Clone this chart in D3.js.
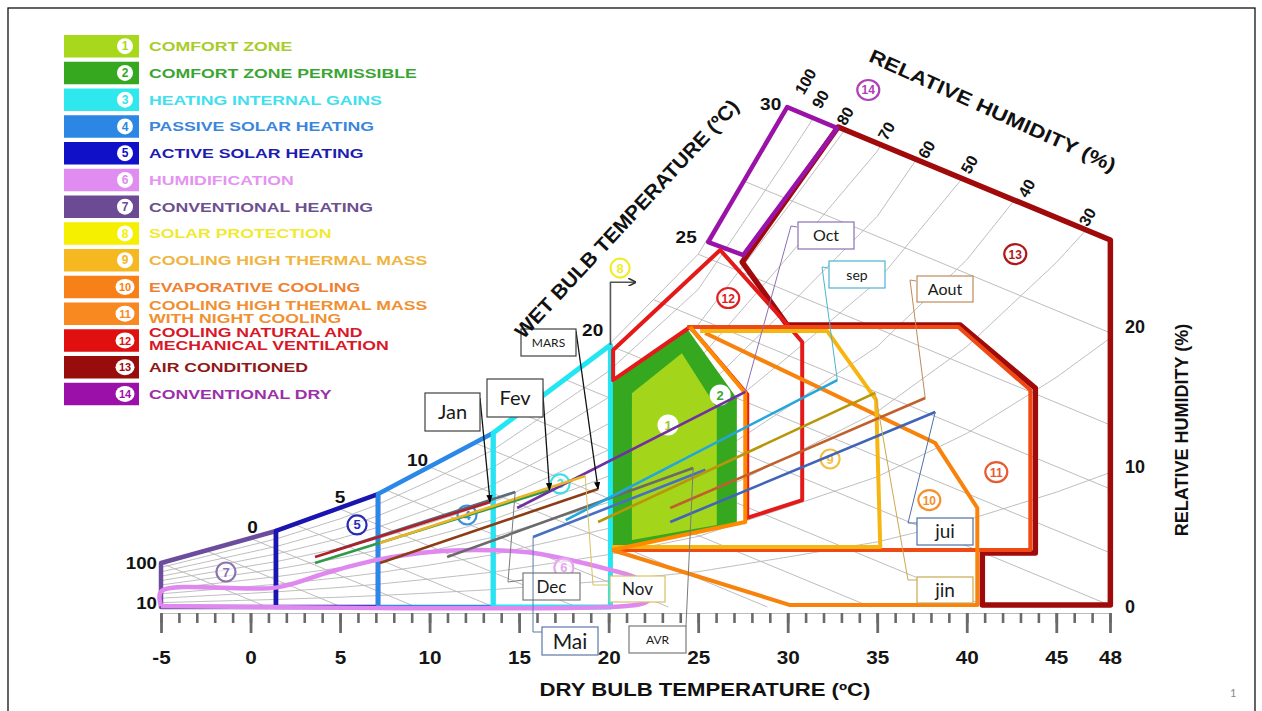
<!DOCTYPE html>
<html><head><meta charset="utf-8">
<script src="https://cdn.jsdelivr.net/npm/d3@7"></script>
<style>body{margin:0;background:#fff}svg{display:block}</style>
</head><body>
<script>
// ---------------- DATA ----------------
const legendNums = [1,2,3,4,5,6,7,8,9,10,11,12,13,14];
const legendText = [["COMFORT ZONE"],["COMFORT ZONE PERMISSIBLE"],["HEATING INTERNAL GAINS"],["PASSIVE SOLAR HEATING"],["ACTIVE SOLAR HEATING"],["HUMIDIFICATION"],["CONVENTIONAL HEATING"],["SOLAR PROTECTION"],["COOLING HIGH THERMAL MASS"],["EVAPORATIVE COOLING"],["COOLING HIGH THERMAL MASS","WITH NIGHT COOLING"],["COOLING NATURAL AND","MECHANICAL VENTILATION"],["AIR CONDITIONED"],["CONVENTIONAL DRY"]];
const xTicksMajor = [-5,0,5,10,15,20,25,30,35,40,45,48];
const xTicksMinor = d3.range(-5,49,1);
const yTicks = [0,10,20];
// saturation curve (dry bulb °C, chart humidity units)
const satT = [-5,0,1.5,5,7,10,13.5,17,20,25,30,35,40,45,48];
const satW = [3.14,4.9,5.43,7.0,8.07,10.0,12.43,15.8,18.71,25.2,35.7,46.5,62,82,96];
const rhLevels = [10,20,30,40,50,60,70,80,90];
const rhTopLabels = [100,90,80,70,60,50,40,30];
const rhLeftLabels = [100,10];
const wetBulbGrid = [-5,-2.5,0,2.5,5,7.5,10,12.5,15,17.5,20,22.5,25,27.5];
const wetBulbLabels = [0,5,10,20,25,30];
const wetBulbSlope = 0.53;
// zones: [dry bulb, humidity]
const zone7  = [[-5,0],[-5,3.14],[1.42,5.43],[1.42,0]];
const zone5  = [[1.42,0],[1.42,5.43],[7.12,8.07],[7.12,0]];
const zone4  = [[7.12,0],[7.12,8.07],[13.55,12.43],[13.55,0]];
const zone3  = [[13.55,0],[13.55,12.43],[20.1,18.71],[20.1,0]];
const zone6  = [[-5,0.07],[21,0.07],[22.1,0.35],[22.6,1.15],[21.4,2.15],[20.1,2.65],[15.8,3.85],[13.5,4.05],[10.2,3.95],[7.2,3.4],[4.4,2.5],[1.5,1.4],[-5,1.1],[-5,0.07]];
const zone2  = [[20.18,15.98],[24.37,19.9],[27.16,14.91],[27.16,5.86],[20.18,4.07]];
const zone1  = [[21.3,15.26],[24.09,18.12],[26.04,14.21],[26.04,5.86],[21.3,4.79]];
const zone12 = [[20.25,16.21],[20.25,18.36],[26.23,25.5],[30.14,19.93],[30.81,18.93],[30.81,7.64],[27.74,6.36],[27.74,15.2],[24.55,20.0],[20.25,16.21]];
const zone13 = [[32.82,34.29],[48.02,26.21],[48.02,0.14],[40.87,0.14],[40.87,3.86],[43.83,3.86],[43.83,15.64],[39.64,20.14],[29.97,20.14],[27.46,24.64],[32.82,34.29]];
const zone14 = [[25.56,26.07],[29.97,35.71],[32.77,34.21],[27.52,25.14],[25.56,26.07]];
const zone11 = [[24.39,20],[39.53,20],[43.55,15.5],[43.55,4.07],[20.2,4.07]];
const zone10 = [[25.39,19.57],[38.24,11.71],[40.59,7.07],[40.59,0.14],[30.14,0.14],[20.2,4.07]];
const zone9  = [[25.11,19.71],[32.21,19.71],[34.94,14.79],[35.17,4.29],[20.2,4.29]];
const coolEdge = [[24.55,20],[27.63,15.29],[27.63,6.07],[20.2,4.07]];
const zone8Arrow = [[20.1,18.71],[20.1,23.2],[21.5,23.2]];
const zoneLabelNum = [1,2,3,4,5,6,7,8,9,10,11,12,13,14];
const zoneLabelT = [23.32,26.23,17.29,12.09,5.95,17.5,-1.37,20.64,32.37,37.91,41.65,26.68,42.71,34.5];
const zoneLabelW = [13.0,15.14,8.79,6.57,5.86,2.8,2.5,24.21,10.57,7.64,9.64,22.07,25.21,36.93];
// monthly lines: min point -> max point
const months   = ["Dec","Jan","Fev","MARS","AVR","Mai","jin","jui","Aout","sep","Oct","Nov"];
const monthT1  = [4.44,3.6,3.6,7.23,10.98,15.78,19.41,23.44,23.44,17.6,14.89,7.23];
const monthW1  = [3.93,3.57,3.14,3.14,3.57,5.0,6.07,6.07,7.07,6.2,7.07,4.57];
const monthT2  = [14.78,13.38,16.7,19.41,24.72,25.4,34.89,38.24,37.68,32.77,27.63,18.69];
const monthW2  = [8.21,7.5,8.36,8.43,9.93,9.8,15.29,13.93,14.93,16.21,15.36,9.36];

// ---------------- STYLE / LAYOUT ----------------
const legendFill = ["#a8d81c","#36a820","#2ee8ee","#2b87e3","#1010c8","#e08cf0","#6c4a94","#f5f000","#f6b820","#f88018","#f88820","#e01010","#980c0c","#9c10aa"];
const legendInk  = ["#a8cc2a","#3aa532","#40e0ee","#3a86dc","#1c1cb0","#e494f0","#6c5090","#f0ea30","#f0b440","#f08030","#f09030","#d81828","#901818","#9c30a8"];
const monthColor = {Dec:"#5a6a78",Jan:"#b0202a",Fev:"#2e9a4a",MARS:"#8b3d14",AVR:"#6a6a6a",Mai:"#4a6fc0",jin:"#b8960a",jui:"#3f64b8",Aout:"#c0602c",sep:"#22a6dc",Oct:"#7030a0",Nov:"#e8b428"};
const annot = {
  Jan:{box:[425,393,55,38],fs:20,border:"#404040",lead:[[480,398]],arrow:true,end:2},
  Fev:{box:[487,379,56,38],fs:20,border:"#404040",lead:[[542,381]],arrow:true,end:2},
  MARS:{box:[521,329,55,27],fs:12,border:"#404040",lead:[[576,331]],arrow:true,end:2},
  AVR:{box:[629,626,57,27],fs:12,border:"#7a7a7a",lead:[[686,626]],end:2},
  Mai:{box:[542,627,56,28],fs:21,border:"#5a78a8",lead:[[533,632],[542,632]],end:1},
  jin:{box:[917,577,56,26],fs:19,border:"#c8a850",lead:[[908,580],[917,580]],end:2},
  jui:{box:[917,518,56,27],fs:19,border:"#4f6fa8",lead:[[908,523],[917,523]],end:2},
  Aout:{box:[917,276,56,26],fs:16,border:"#c08a5a",lead:[[910,280],[916,281]],end:2},
  sep:{box:[829,261,56,27],fs:14,border:"#4bb4d0",lead:[[822,267],[828,268]],end:2},
  Oct:{box:[798,222,56,27],fs:16,border:"#8a70b0",lead:[[791,226],[797,227]],end:2},
  Nov:{box:[610,576,55,26],fs:17,border:"#d8c060",lead:[[593,585],[610,585]],end:2},
  Dec:{box:[523,573,57,27],fs:17,border:"#7a7a7a",lead:[[508,582],[523,580]],end:2}
};
const wbLabelDx = [2,0,-12,-16,-12,-17];
const wbLabelDy = [-5,-6,-1,-9,-11,3];
const rhLabelDx = [19,8,2,7,12,9,14,3];
const rhLabelDy = [-25,-18,-14,-14,-10,-14,-12,-13];
const BOLD = "'Liberation Sans',Arial,sans-serif";
const BOXF = "Lato,'Open Sans',sans-serif";

// ---------------- DRAW ----------------
const svg = d3.select("body").append("svg").attr("width",1262).attr("height",711);
svg.append("rect").attr("x",8).attr("y",8).attr("width",1247).attr("height",720)
  .attr("fill","#fff").attr("stroke","#111").attr("stroke-width",1.3);
const defs = svg.append("defs");
defs.append("marker").attr("id","ah").attr("viewBox","0 0 10 10").attr("refX",9).attr("refY",5)
  .attr("markerWidth",6).attr("markerHeight",6).attr("orient","auto")
  .append("path").attr("d","M0,1L10,5L0,9z").attr("fill","#000");
defs.append("marker").attr("id","ah2").attr("viewBox","0 0 10 10").attr("refX",9).attr("refY",5)
  .attr("markerWidth",5).attr("markerHeight",5).attr("orient","auto")
  .append("path").attr("d","M0,0L10,5L0,10").attr("fill","none").attr("stroke","#333").attr("stroke-width",2);

const x = d3.scaleLinear().domain([-5,48]).range([161,1110]);
const y = d3.scaleLinear().domain([0,20]).range([607,327]);
const sat = d3.scaleLinear().domain(satT).range(satW);
const line = d3.line().x(d=>x(d[0])).y(d=>y(d[1]));
const wb30 = T => sat(30) - wetBulbSlope*(T-30);

function stext(parent, px, py, str, o){
  const g = parent.append("g").attr("transform",`translate(${px},${py}) rotate(${o.rot||0}) scale(${o.sx||1},1)`);
  return g.append("text").text(str).attr("text-anchor",o.anchor||"start")
    .attr("dominant-baseline",o.base||"auto")
    .attr("font-family",o.ff||BOLD).attr("font-weight",o.fw||"bold")
    .attr("font-size",o.fs).attr("fill",o.fill||"#111");
}

// grid: RH curves
const grid = svg.append("g").attr("fill","none").attr("stroke","#b5b5b5").attr("stroke-width",0.9);
const rhEnds = {};
function rhCurve(rh){
  const pts=[]; let prev=null;
  for(const T of d3.range(-5,48.001,0.25)){
    const w = rh/100*sat(T);
    if(T>=30 && w>=wb30(T)){
      if(prev){ const f=(wb30(prev[0])-prev[1])/((w-prev[1])-(wb30(T)-wb30(prev[0]))); const tt=prev[0]+f*(T-prev[0]); pts.push([tt, rh/100*sat(tt)]);}
      else pts.push([T,w]);
      rhEnds[rh]=pts[pts.length-1]; return pts;
    }
    pts.push([T,w]); prev=[T,w];
  }
  rhEnds[rh]=pts[pts.length-1]; return pts;
}
rhLevels.forEach(rh=>grid.append("path").attr("d",line(rhCurve(rh))));
rhEnds[100]=[30,sat(30)];
wetBulbGrid.forEach(t=>{
  const w0=sat(t); const tEnd=Math.min(48,t+w0/wetBulbSlope);
  grid.append("path").attr("d",line([[t,w0],[tEnd,Math.max(0,w0-wetBulbSlope*(tEnd-t))]]));
});
grid.append("path").attr("d",line([[30,sat(30)],[48,wb30(48)]]));
grid.append("path").attr("d",line(satT.filter(t=>t<=30).map(t=>[t,sat(t)])));

// x axis
const xa = svg.append("g").attr("transform","translate(0,613)");
xa.call(d3.axisBottom(x).tickValues(xTicksMinor).tickSize(10).tickFormat(""));
xa.select(".domain").attr("stroke","#bbb").attr("stroke-width",1);
xa.selectAll(".tick line").attr("stroke","#6a6a6a").attr("stroke-width",2.6);
const xb = svg.append("g").attr("transform","translate(0,613)");
xb.call(d3.axisBottom(x).tickValues(xTicksMajor).tickSize(20).tickPadding(18).tickFormat(d=>String(d)));
xb.select(".domain").remove();
xb.selectAll(".tick line").attr("stroke","#6a6a6a").attr("stroke-width",2.8);
xb.selectAll(".tick text").attr("font-family",BOLD).attr("font-weight","bold").attr("font-size",18)
  .attr("fill","#151515").attr("transform","scale(1.15,1)");
// y axis (right)
const ya = svg.append("g").attr("transform","translate(1112,0)");
ya.call(d3.axisRight(y).tickValues(yTicks).tickSize(0).tickPadding(13).tickFormat(d=>String(d)));
ya.select(".domain").remove();
ya.selectAll(".tick text").attr("font-family",BOLD).attr("font-weight","bold").attr("font-size",18).attr("fill","#151515");

// comfort fills
svg.append("path").attr("d",line(zone2)+"Z").attr("fill","#36a820");
svg.append("path").attr("d",line(zone1)+"Z").attr("fill","#a3d51a");

// zone outlines
const zl = svg.append("g").attr("fill","none").attr("stroke-linejoin","round");
function zone(pts,color,w,closed){ zl.append("path").attr("d",line(pts)+(closed?"Z":"")).attr("stroke",color).attr("stroke-width",w); }
zone(zone7,"#6c4c9c",4.5,true);
zone(zone5,"#1a14b0",4.5,true);
zone(zone4,"#2a88e8",4.5,true);
zone(zone3,"#22e6f2",5,true);
zl.append("path").attr("d",d3.line().x(d=>x(d[0])).y(d=>y(d[1])).curve(d3.curveCatmullRom)(zone6))
  .attr("stroke","#df88ef").attr("stroke-width",4.5);
zone(zone13,"#a00a0a",5.5,true);
zone(zone14,"#9a12a8",4.5,true);
zone(zone12,"#e41a1a",4,true);
zone(zone11,"#f04a14",4,false);
zone(zone10,"#f7820c",4,false);
zone(zone9,"#f6b612",4,false);
zone(coolEdge,"#ff8a00",4,false);
zl.append("path").attr("d",line(zone8Arrow)).attr("stroke","#555").attr("stroke-width",1.6).attr("marker-end","url(#ah2)");

// zone number badges
const badgeCol = ["#fff","#fff","#3ee0ea","#3a90e0","#2a2ab8","#e6a6f0","#8c74b0","#f0ec30","#f2c040","#f59030","#e85a30","#e02020","#b01818","#b040b8"];
const badgeInk = ["#9bcc22","#3aa532","#3ee0ea","#3a90e0","#2a2ab8","#e6a6f0","#8c74b0","#f0ec30","#f2c040","#f59030","#e85a30","#e02020","#b01818","#b040b8"];
zoneLabelNum.forEach((n,i)=>{
  const cx=x(zoneLabelT[i]), cy=y(zoneLabelW[i]);
  const two = n>=10;
  const g = svg.append("g");
  g.append("ellipse").attr("cx",cx).attr("cy",cy).attr("rx",two?11:9.5).attr("ry",two?10:9.5)
    .attr("fill",i<2?"#fff":"rgba(255,255,255,0.6)").attr("stroke",badgeCol[i]).attr("stroke-width",2.2);
  g.append("text").attr("x",cx).attr("y",cy+4.5).attr("text-anchor","middle").text(n)
    .attr("font-family",BOLD).attr("font-weight","bold").attr("font-size",two?12:13).attr("fill",badgeInk[i]);
});

// month lines
const ml = svg.append("g").attr("stroke-linecap","butt");
months.forEach((m,i)=>{
  ml.append("path").attr("d",line([[monthT1[i],monthW1[i]],[monthT2[i],monthW2[i]]]))
    .attr("stroke",monthColor[m]).attr("stroke-width",2.6).attr("fill","none");
});
// month annotations
const an = svg.append("g");
months.forEach((m,i)=>{
  const a = annot[m];
  const p = a.end===1 ? [x(monthT1[i]),y(monthW1[i])] : [x(monthT2[i]),y(monthW2[i])];
  const pts = a.arrow ? [a.lead[0],p] : [p].concat(a.lead);
  an.append("path").attr("d",d3.line()(pts)).attr("fill","none")
    .attr("stroke",a.arrow?"#111":a.border).attr("stroke-width",a.arrow?1.3:1)
    .attr("marker-end",a.arrow?"url(#ah)":null);
  const [bx,by,bw,bh]=a.box;
  an.append("rect").attr("x",bx).attr("y",by).attr("width",bw).attr("height",bh)
    .attr("fill","#fff").attr("stroke",a.border).attr("stroke-width",1.2);
  an.append("text").attr("x",bx+bw/2).attr("y",by+bh/2).attr("dy","0.36em").attr("text-anchor","middle")
    .attr("font-family",BOXF).attr("font-size",a.fs).attr("fill","#1a1a1a").text(m);
});

// wet bulb labels along saturation
wetBulbLabels.forEach((t,i)=>{
  stext(svg, x(t)+wbLabelDx[i], y(sat(t))+wbLabelDy[i], t, {fs:17, anchor:"middle", sx:1.12});
});
// RH labels left
rhLeftLabels.forEach(rh=>{
  stext(svg, 157, y(rh/100*sat(-5))+6, rh, {fs:17, anchor:"end", sx:1.1});
});
// RH labels top
rhTopLabels.forEach((rh,i)=>{
  const e = rhEnds[rh];
  stext(svg, x(e[0])+rhLabelDx[i], y(e[1])+rhLabelDy[i], rh, {fs:16, anchor:"middle", rot:-60, base:"middle"});
});

// titles
stext(svg, 705, 696, "DRY BULB TEMPERATURE (ºC)", {fs:18, anchor:"middle", sx:1.23});
stext(svg, 628, 220, "WET BULB TEMPERATURE (ºC)", {fs:20, anchor:"middle", rot:-47, base:"middle", sx:1.05});
stext(svg, 992, 112, "RELATIVE   HUMIDITY (%)", {fs:19, anchor:"middle", rot:24.5, base:"middle", sx:1.2});
stext(svg, 1183, 430, "RELATIVE  HUMIDITY (%)", {fs:18, anchor:"middle", rot:-90, base:"middle", sx:1.0});
svg.append("text").attr("x",1230).attr("y",697).attr("font-family",BOXF).attr("font-size",11).attr("fill","#888").text("1");

// legend
const lg = svg.append("g");
legendNums.forEach((n,i)=>{
  const top = 35 + i*26.75;
  lg.append("rect").attr("x",64).attr("y",top).attr("width",75).attr("height",22.5).attr("fill",legendFill[i]);
  lg.append("ellipse").attr("cx",125).attr("cy",top+11.2).attr("rx",n>=10?9.5:8).attr("ry",8).attr("fill","#fff");
  lg.append("text").attr("x",125).attr("y",top+15.3).attr("text-anchor","middle").text(n)
    .attr("font-family",BOLD).attr("font-weight","bold").attr("font-size",n>=10?11:12).attr("fill",legendFill[i]);
  const lines = legendText[i];
  lines.forEach((s,j)=>{
    const base = lines.length===1 ? top+16.2 : top+7.5+j*13.2;
    stext(lg, 149, base, s, {fs:13, sx:1.36, fill:legendInk[i]});
  });
});
</script>
</body></html>
